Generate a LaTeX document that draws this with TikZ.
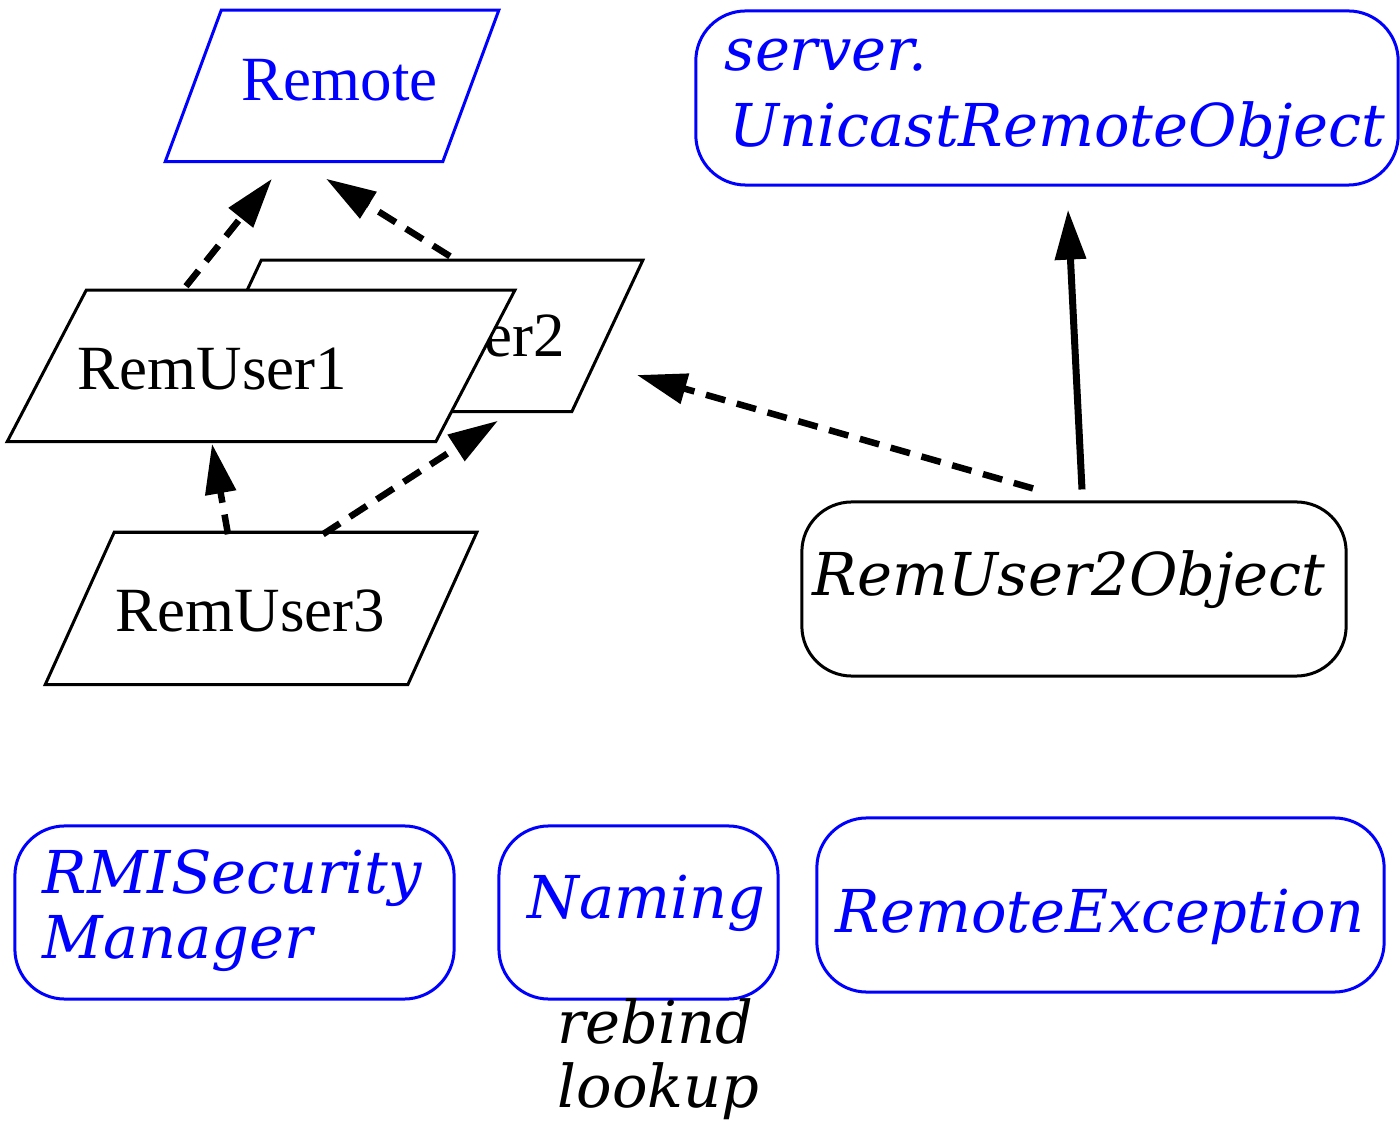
\documentclass[tikz,border=0pt]{standalone}
\usepackage{fontspec}
\setmainfont{Liberation Serif}
\newfontfamily\itf{DejaVu Serif}
\usetikzlibrary{arrows.meta}
\newcommand\parashape[3]{\draw[paraline,#3] (#1.south west) -- ([xshift=#2]#1.north west) -- (#1.north east) -- ([xshift=-#2]#1.south east) -- cycle;}
\begin{document}
\begin{tikzpicture}[x=0.01cm,y=-0.01cm,
  rm/.style={font=\fontsize{17.9}{20}\selectfont, inner sep=0},
  it/.style={font=\fontsize{16.8}{19}\itf\itshape, inner sep=0},
  parabox/.style={rectangle, inner sep=0, minimum height=1.5cm},
  paraline/.style={line width=0.03cm, line join=miter},
  rbox/.style={rectangle, rounded corners=0.5cm, draw, line width=0.03cm, inner sep=2pt},
  dep/.style={dash pattern=on 0.2cm off 0.12cm, line width=0.065cm, -{Triangle[length=0.5cm,width=0.3cm]}},
  inh/.style={line width=0.07cm, -{Triangle[length=0.5cm,width=0.3cm]}}]
\useasboundingbox (0,0) rectangle (1400,1122);

% Remote interface
\node[parabox, minimum width=3.32cm] (remote) at (332,86) {};
\parashape{remote}{0.56cm}{draw=blue}
\node[rm, text=blue, anchor=base west] (remotet) at (241,101) {Remote};

% RemUser2 (behind)
\node[parabox, minimum width=4.51cm] (u2) at (416.5,336) {};
\parashape{u2}{0.71cm}{draw=black, fill=white}
\node[rm, anchor=base east] (u2t) at (566,357) {RemUser2};

% RemUser1 (front)
\node[parabox, minimum width=5.06cm] (u1) at (261,366) {};
\parashape{u1}{0.79cm}{draw=black, fill=white}
\node[rm, anchor=base west] (u1t) at (77,390) {RemUser1};

% RemUser3
\node[parabox, minimum width=4.30cm, minimum height=1.51cm] (u3) at (261,608.5) {};
\parashape{u3}{0.69cm}{draw=black, fill=white}
\node[rm, anchor=base west] (u3t) at (115,632) {RemUser3};

% server.UnicastRemoteObject
\node[rbox, draw=blue, minimum width=7.02cm, minimum height=1.74cm] (uro) at (1047,98) {};
\node[it, text=blue, anchor=base west] (urot1) at (724,71) {server.};
\node[it, text=blue, anchor=base west] (urot2) at (729,147) {UnicastRemoteObject};

% RemUser2Object
\node[rbox, minimum width=5.44cm, minimum height=1.74cm] (obj) at (1074,589) {};
\node[it, anchor=base west] (objt) at (812,596) {RemUser2Object};

% bottom row
\node[rbox, draw=blue, minimum width=4.39cm, minimum height=1.73cm] (rmi) at (234.5,912.5) {};
\node[it, text=blue, anchor=base west] (rmit1) at (42,893) {RMISecurity};
\node[it, text=blue, anchor=base west] (rmit2) at (42,958) {Manager};

\node[rbox, draw=blue, minimum width=2.79cm, minimum height=1.73cm] (nam) at (638.5,912.5) {};
\node[it, text=blue, anchor=base west] (namt) at (527,918) {Naming};
\node[it, anchor=base west] (nrb) at (557,1043) {rebind};
\node[it, anchor=base west] (nlu) at (557,1107) {lookup};

\node[rbox, draw=blue, minimum width=5.67cm, minimum height=1.74cm] (rex) at (1100.5,905) {};
\node[it, text=blue, anchor=base west] (rext) at (835,932) {RemoteException};

% connectors
\draw[dep] ([shift={(-75,-4)}]u1.north) -- ([shift={(-60,17)}]remote.south);
\draw[dep] ([shift={(33.5,-4)}]u2.north) -- ([shift={(-6,17)}]remote.south);
\draw[dep] ([shift={(-33,2)}]u3.north) -- ([shift={(-49,2)}]u1.south);
\draw[dep] ([shift={(62,2)}]u3.north) -- ([shift={(81.5,9)}]u2.south);
\draw[dep] ([shift={(-41,-12)}]obj.north) -- ([shift={(-6,39)}]u2.east);
\draw[inh] ([shift={(8,-11)}]obj.north) -- ([shift={(21,23)}]uro.south);
\end{tikzpicture}
\end{document}
